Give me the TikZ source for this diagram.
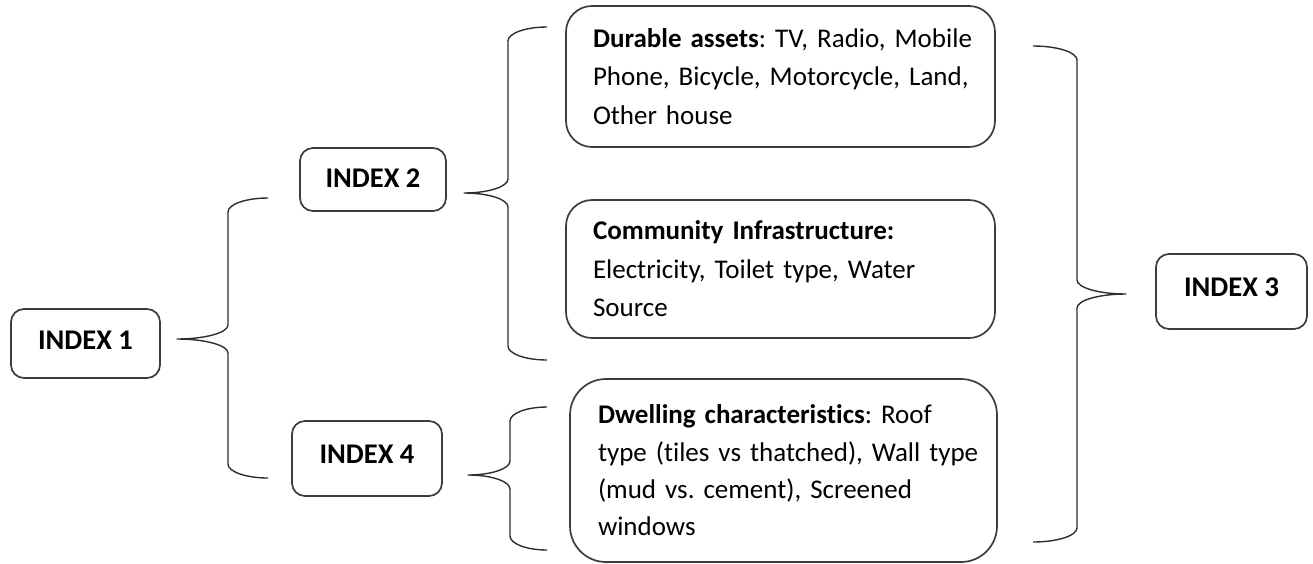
\documentclass[tikz,border=0pt]{standalone}
\usepackage{fontspec}
\setmainfont[Ligatures={NoCommon}]{Carlito}
\usetikzlibrary{calc}

\definecolor{boxline}{HTML}{3C3C3C}
\definecolor{braceline}{HTML}{2E2E2E}

% Curly brace: #1 top end, #2 tip, #3 bottom end, #4 horizontal offset of the spine from the ends
\newcommand\curlybrace[4]{%
  \draw[brace] let \p1=(#1), \p2=(#2), \p3=(#3) in
    (\p1) .. controls ({\x1+0.552*(#4)},\y1) and ({\x1+(#4)},{\y1-6.3pt}) .. ({\x1+(#4)},{\y1-14pt})
    -- ({\x1+(#4)},{\y2+14pt})
    .. controls ({\x1+(#4)},{\y2+6.3pt}) and ({\x2+0.552*(\x1+(#4)-\x2)},\y2) .. (\p2)
    .. controls ({\x2+0.552*(\x1+(#4)-\x2)},\y2) and ({\x1+(#4)},{\y2-6.3pt}) .. ({\x1+(#4)},{\y2-14pt})
    -- ({\x1+(#4)},{\y3+14pt})
    .. controls ({\x1+(#4)},{\y3+6.3pt}) and ({\x3+0.552*(#4)},\y3) .. (\p3);}

% one unbroken line of box text
\newcommand\oneline[1]{\mbox{#1}}

\frenchspacing
\hfuzz=200pt
\begin{document}
\begin{tikzpicture}[x=1pt,y=-1pt,
  indexbox/.style={draw=boxline, line width=1.7pt, rounded corners=13pt,
    inner sep=0pt, font=\fontsize{28.5}{32}\selectfont\bfseries,
    text height=19pt, text depth=7pt},
  infobox/.style={draw=boxline, line width=1.7pt, inner sep=0pt, align=left,
    font=\fontsize{27}{38.5}\selectfont},
  brace/.style={draw=braceline, line width=1.4pt, line join=round}]

  \useasboundingbox (0,0) rectangle (1313,563);

  % index boxes
  \node[indexbox, minimum width=149pt, minimum height=69pt] (idx1) at (85.5,343.5) {INDEX 1};
  \node[indexbox, minimum width=146pt, minimum height=63pt, text depth=4pt] (idx2) at (373,179.5) {INDEX 2};
  \node[indexbox, minimum width=150pt, minimum height=75pt, text depth=10pt] (idx4) at (367,458.5) {INDEX 4};
  \node[indexbox, minimum width=151pt, minimum height=75pt, text depth=10pt] (idx3) at (1231.5,291.5) {INDEX 3};

  % component boxes
  \node[infobox, rounded corners=26pt, minimum width=429pt, minimum height=141pt, text width=375pt]
    (durable) at (780.5,76.5)
    {\oneline{\textbf{Durable assets}: TV, Radio, Mobile}\\
     \oneline{Phone, Bicycle, Motorcycle, Land,}\\
     \oneline{Other house}};
  \node[infobox, rounded corners=26pt, minimum width=429pt, minimum height=138pt, text width=375pt]
    (community) at (780.5,269)
    {\oneline{\textbf{Community Infrastructure:}}\\
     \oneline{Electricity, Toilet type, Water}\\
     \oneline{Source}};
  \node[infobox, rounded corners=36pt, minimum width=427pt, minimum height=183pt, text width=371pt,
    font=\fontsize{27}{37.3}\selectfont]
    (dwelling) at (783.5,470.5)
    {\oneline{\textbf{Dwelling characteristics}: Roof}\\
     \oneline{type (tiles vs thatched), Wall type}\\
     \oneline{(mud vs. cement), Screened}\\
     \oneline{windows}};

  % brace end points
  \coordinate (b1top) at (268,198);  \coordinate (b1tip) at (177,339);  \coordinate (b1bot) at (268,478);
  \coordinate (b2top) at (547,27);   \coordinate (b2tip) at (464,193);  \coordinate (b2bot) at (547,360);
  \coordinate (b4top) at (547,407);  \coordinate (b4tip) at (468,475);  \coordinate (b4bot) at (547,550);
  \coordinate (b3top) at (1033,46);  \coordinate (b3tip) at (1126,294); \coordinate (b3bot) at (1033,542);

  \curlybrace{b1top}{b1tip}{b1bot}{-40pt}
  \curlybrace{b2top}{b2tip}{b2bot}{-39pt}
  \curlybrace{b4top}{b4tip}{b4bot}{-37pt}
  \curlybrace{b3top}{b3tip}{b3bot}{44pt}
\end{tikzpicture}
\end{document}
